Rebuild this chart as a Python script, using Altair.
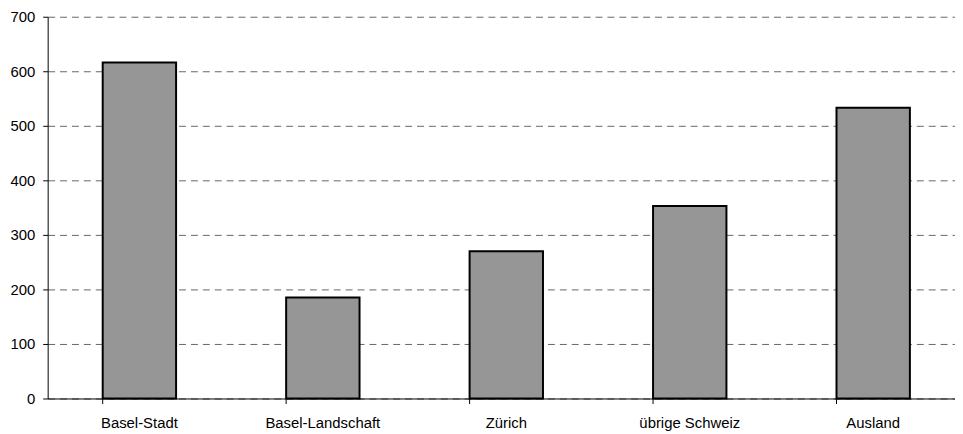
import altair as alt
import pandas as pd

categories = ["Basel-Stadt", "Basel-Landschaft", "Zürich", "übrige Schweiz", "Ausland"]
values = [616, 185, 270, 353, 533]

df = pd.DataFrame({"cat": categories, "val": values})

font = "Liberation Sans"

chart = alt.Chart(df).mark_bar(
    color="#969696", stroke="black", strokeWidth=2
).encode(
    x=alt.X("cat:N", sort=categories, title=None,
            scale=alt.Scale(paddingInner=0.6, paddingOuter=0.3, range=[0, 925]),
            axis=alt.Axis(labelAngle=0, bandPosition=0, domainColor="black", tickColor="black",
                          tickSize=5, labelPadding=12, labelFontSize=15, labelFont=font,
                          labelColor="black", grid=False)),
    y=alt.Y("val:Q", title=None,
            scale=alt.Scale(domain=[0, 700], nice=False),
            axis=alt.Axis(values=[0, 100, 200, 300, 400, 500, 600, 700], domainColor="black",
                          tickColor="black", tickSize=5, labelPadding=8, labelFontSize=15,
                          labelFont=font, labelColor="black", grid=True, gridColor="#666666",
                          gridDash=[7, 5], gridWidth=1)),
).properties(
    width=915, height=385,
    autosize=alt.AutoSizeParams(type="none"),
    padding={"left": 40, "top": 7, "right": 0, "bottom": 34},
).configure_view(stroke=None)

chart.save("out.html", embed_options={"renderer": "svg", "actions": False})
